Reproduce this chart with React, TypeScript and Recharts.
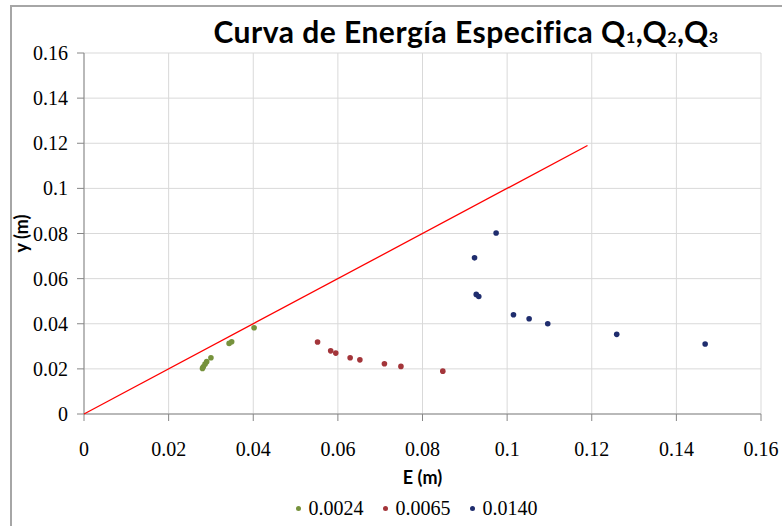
import React from 'react';
import { ScatterChart, Scatter, XAxis, YAxis, CartesianGrid } from 'recharts';

// E (m) / y (m) pairs, one list per flow
const q1E = [0.0402, 0.0349, 0.0343, 0.03, 0.029, 0.0286, 0.0282, 0.028];
const q1Y = [0.0382, 0.032, 0.0313, 0.0249, 0.0232, 0.0221, 0.0209, 0.0202];

const q2E = [0.0552, 0.0583, 0.0595, 0.0629, 0.0652, 0.071, 0.0749, 0.0848];
const q2Y = [0.0319, 0.028, 0.027, 0.0249, 0.024, 0.0223, 0.0211, 0.019];

const q3E = [0.0974, 0.0923, 0.0927, 0.0933, 0.1015, 0.1052, 0.1096, 0.1259, 0.1468];
const q3Y = [0.0802, 0.0692, 0.053, 0.0521, 0.044, 0.0422, 0.04, 0.0353, 0.031];

// critical line y = E
const lineE = [0, 0.119];
const lineY = [0, 0.119];

const seriesNames = ['0.0024', '0.0065', '0.0140'];
const seriesColors = ['#76923c', '#a3353a', '#1f2d6e'];

const ticks = [0, 0.02, 0.04, 0.06, 0.08, 0.1, 0.12, 0.14, 0.16];

const toPoints = (xs: number[], ys: number[]) => xs.map((x, i) => ({ x, y: ys[i] }));

const series = [
  toPoints(q1E, q1Y),
  toPoints(q2E, q2Y),
  toPoints(q3E, q3Y),
];
const lineData = toPoints(lineE, lineY);

const tickFont = { fontFamily: '"Liberation Serif", serif', fontSize: 20, fill: '#000' };
const labelFont = { fontFamily: 'Lato, sans-serif', fontSize: 18, fontWeight: 700, fill: '#000' };

const dot = (color: string) => (props: any) => (
  <circle cx={props.cx} cy={props.cy} r={2.8} fill={color} />
);

const sub = { fontSize: 16, verticalAlign: 'baseline' as const };

export default function App() {
  return (
    <div style={{ position: 'absolute', left: 0, top: 0, width: 782, height: 526, overflow: 'hidden', background: '#fff' }}>
      <div style={{
        position: 'absolute', left: 10, top: 5, width: 800, height: 600,
        borderTop: '2px solid #a6a6a6', borderLeft: '2px solid #a6a6a6'
      }} />
      <div style={{
        position: 'absolute', left: 0, width: 932, top: 13, textAlign: 'center', letterSpacing: 0.5,
        fontFamily: 'Lato, sans-serif', fontSize: 30, fontWeight: 700, color: '#000', whiteSpace: 'nowrap'
      }}>
        Curva de Energía Especifica Q<sub style={sub}>1</sub>,Q<sub style={sub}>2</sub>,Q<sub style={sub}>3</sub>
      </div>
      <div style={{ position: 'absolute', left: 0, top: 0 }}>
        <ScatterChart width={782} height={526} margin={{ top: 53, right: 21, left: 0, bottom: 40 }}>
          <CartesianGrid stroke="#d9d9d9" strokeWidth={1} />
          <XAxis
            type="number"
            dataKey="x"
            domain={[0, 0.16]}
            ticks={ticks}
            tickFormatter={(v) => String(v)}
            stroke="#868686"
            tickSize={7}
            tickMargin={21}
            tick={tickFont}
            height={72}
            label={{ value: 'E (m)', position: 'insideBottom', offset: 2, style: labelFont }}
          />
          <YAxis
            type="number"
            dataKey="y"
            domain={[0, 0.16]}
            ticks={ticks}
            tickFormatter={(v) => String(v)}
            stroke="#868686"
            tickSize={7}
            tickMargin={9}
            tick={tickFont}
            width={84}
            label={{ value: 'y (m)', angle: -90, position: 'insideLeft', offset: 22, style: { ...labelFont, textAnchor: 'middle' } }}
          />
          <Scatter
            data={lineData}
            line={{ stroke: '#ff0000', strokeWidth: 1.3 }}
            shape={() => <g />}
            legendType="none"
            isAnimationActive={false}
          />
          {series.map((data, i) => (
            <Scatter
              key={seriesNames[i]}
              name={seriesNames[i]}
              data={data}
              shape={dot(seriesColors[i])}
              fill={seriesColors[i]}
              isAnimationActive={false}
            />
          ))}
        </ScatterChart>
      </div>
      <div style={{
        position: 'absolute', left: 0, width: 833, top: 497, display: 'flex', justifyContent: 'center',
        fontFamily: '"Liberation Serif", serif', fontSize: 20, color: '#000', gap: 19
      }}>
        {seriesNames.map((name, i) => (
          <span key={name} style={{ display: 'flex', alignItems: 'center' }}>
            <span style={{ width: 5, height: 5, borderRadius: 3, background: seriesColors[i], marginRight: 8 }} />
            {name}
          </span>
        ))}
      </div>
    </div>
  );
}
